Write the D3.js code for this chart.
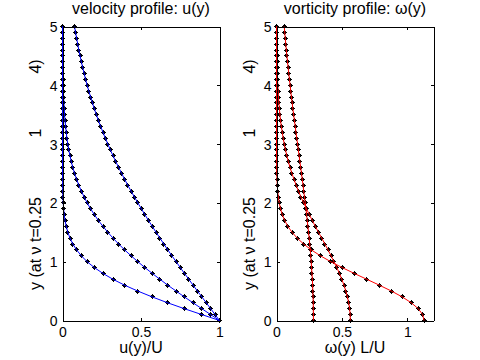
<!DOCTYPE html>
<html><head><meta charset="utf-8">
<script src="https://cdn.jsdelivr.net/npm/d3@7"></script>
<style>
body{margin:0;background:#fff}
svg{display:block}
text{font-family:"Liberation Sans",Arial,Helvetica,sans-serif;fill:#000}
</style>
</head><body>
<svg id="chart" width="480" height="360"></svg>
<script>
// y positions of the samples
const yGrid=[0,0.1,0.2,0.3,0.4,0.5,0.6,0.7,0.8,0.9,1.0,1.1,1.2,1.3,1.4,1.5,1.6,1.7,1.8,1.9,2.0,2.1,2.2,2.3,2.4,2.5,2.6,2.7,2.8,2.9,3.0,3.1,3.2,3.3,3.4,3.5,3.6,3.7,3.8,3.9,4.0,4.1,4.2,4.3,4.4,4.5,4.6,4.7,4.8,4.9,5.0];
// velocity u(y)/U at nu t = 0.25, 1, 4
const uNt025=[1.000,.888,.777,.671,.572,.480,.396,.322,.258,.203,.157,.120,.090,.066,.048,.034,.024,.016,.011,.007,.005,.003,.002,.001,.001,.000,0,0,0,0,0,0,0,0,0,0,0,0,0,0,0,0,0,0,0,0,0,0,0,0,0];
const uNt1=[1.000,.944,.888,.832,.777,.724,.671,.621,.572,.525,.480,.437,.396,.358,.322,.289,.258,.229,.203,.179,.157,.138,.120,.104,.090,.077,.066,.056,.048,.040,.034,.028,.024,.020,.016,.013,.011,.009,.007,.006,.005,.004,.003,.002,.002,.002,.001,.001,.001,.001,.000];
const uNt4=[1.000,.972,.944,.916,.888,.860,.832,.805,.777,.750,.724,.697,.671,.646,.621,.596,.572,.548,.525,.502,.480,.458,.437,.416,.396,.377,.358,.340,.322,.305,.289,.273,.258,.243,.229,.216,.203,.191,.179,.168,.157,.147,.138,.129,.120,.112,.104,.097,.090,.083,.077];
// vorticity omega(y) L/U at nu t = 0.25, 1, 4
const wNt025=[1.128,1.117,1.084,1.031,.962,.879,.787,.691,.595,.502,.415,.336,.267,.208,.159,.119,.087,.063,.044,.031,.021,.014,.009,.006,.004,.002,.001,.001,.000,0,0,0,0,0,0,0,0,0,0,0,0,0,0,0,0,0,0,0,0,0,0];
const wNt1=[.564,.563,.559,.552,.542,.530,.516,.499,.481,.461,.439,.417,.394,.370,.346,.321,.297,.274,.251,.229,.208,.187,.168,.150,.134,.118,.104,.091,.079,.069,.059,.051,.044,.037,.031,.026,.022,.018,.015,.013,.010,.008,.007,.006,.004,.004,.003,.002,.002,.001,.001];
const wNt4=[.282,.282,.281,.281,.279,.278,.276,.274,.271,.268,.265,.262,.258,.254,.250,.245,.240,.235,.230,.225,.220,.214,.208,.203,.197,.191,.185,.179,.173,.167,.161,.155,.149,.143,.137,.131,.125,.120,.114,.109,.104,.099,.094,.089,.084,.080,.075,.071,.067,.063,.059];

const yTicks=[0,1,2,3,4,5];
const uTicks=[0,0.5,1];
const wTicks=[0,0.5,1];
const titles=["velocity profile: u(y)","vorticity profile: \u03c9(y)"];
const xLabels=["u(y)/U","\u03c9(y) L/U"];
const yLabelParts=["y (at \u03bd t=0.25","1","4)"];

(function(){
const svg=d3.select("#chart");
const axTop=26.5,axBottom=320.5;
const panels=[
  {left:62.5,right:219.5,xMax:1,series:[uNt025,uNt1,uNt4],color:"#0000ff",ticks:uTicks,title:titles[0],xl:xLabels[0]},
  {left:276.5,right:433.5,xMax:1.2,series:[wNt025,wNt1,wNt4],color:"#ff0000",ticks:wTicks,title:titles[1],xl:xLabels[1]}
];
const markerPath="M-2.5,-0.5h5v1h-5zM-0.5,-2.5h1v5h-1zM-1.5,-1.5h3v3h-3z";
const fmt=d=>String(d);

panels.forEach(p=>{
  const x=d3.scaleLinear().domain([0,p.xMax]).range([p.left,p.right]);
  const y=d3.scaleLinear().domain([0,5]).range([axBottom,axTop]);
  const g=svg.append("g");

  // markers first
  p.series.forEach(s=>{
    g.append("g").selectAll("path").data(s).join("path")
      .attr("d",markerPath).attr("fill","#000")
      .attr("transform",(v,i)=>`translate(${Math.round(x(v)-0.5)+0.5},${Math.round(y(yGrid[i])-0.5)+0.5})`);
  });

  // lines over markers
  const line=d3.line().x(d=>x(d.v)).y(d=>y(d.y));
  p.series.forEach(s=>{
    const pts=s.map((v,i)=>({v:v,y:yGrid[i]}));
    g.append("path").datum(pts).attr("d",line)
      .attr("fill","none").attr("stroke",p.color).attr("stroke-width",1);
  });

  const tl=3;
  const ax=(gen,tr)=>{
    const a=g.append("g").attr("transform",tr).call(gen);
    a.attr("font-size",14).attr("font-family",null);
    a.selectAll("path.domain").attr("stroke","#000").attr("shape-rendering","crispEdges");
    a.selectAll("line").attr("stroke","#000").attr("shape-rendering","crispEdges");
    return a;
  };
  ax(d3.axisBottom(x).tickValues(p.ticks).tickFormat(fmt).tickSize(-tl).tickSizeOuter(0).tickPadding(6.5),`translate(0,${axBottom})`);
  ax(d3.axisTop(x).tickValues(p.ticks).tickFormat("").tickSize(-tl).tickSizeOuter(0),`translate(0,${axTop})`);
  const yl=ax(d3.axisLeft(y).tickValues(yTicks).tickFormat(fmt).tickSize(-tl).tickSizeOuter(0).tickPadding(5),`translate(${p.left},0)`);
  ax(d3.axisRight(y).tickValues(yTicks).tickFormat("").tickSize(-tl).tickSizeOuter(0),`translate(${p.right},0)`);
  yl.selectAll("text").attr("dy","0.36em");

  const cx=(p.left+p.right)/2, cy=(axTop+axBottom)/2;
  g.append("text").attr("x",cx).attr("y",14).attr("text-anchor","middle").attr("font-size",16).text(p.title);
  g.append("text").attr("x",cx).attr("y",353).attr("text-anchor","middle").attr("font-size",16).text(p.xl);
  const lx=p.left-21.5;
  const offs=[[cy+116.5,"start"],[cy-40.5,"middle"],[cy-107,"middle"]];
  yLabelParts.forEach((t,i)=>{
    g.append("text").attr("transform",`translate(${lx},${offs[i][0]}) rotate(-90)`)
      .attr("text-anchor",offs[i][1]).attr("font-size",16).text(t);
  });
});
})();
</script>
</body></html>
